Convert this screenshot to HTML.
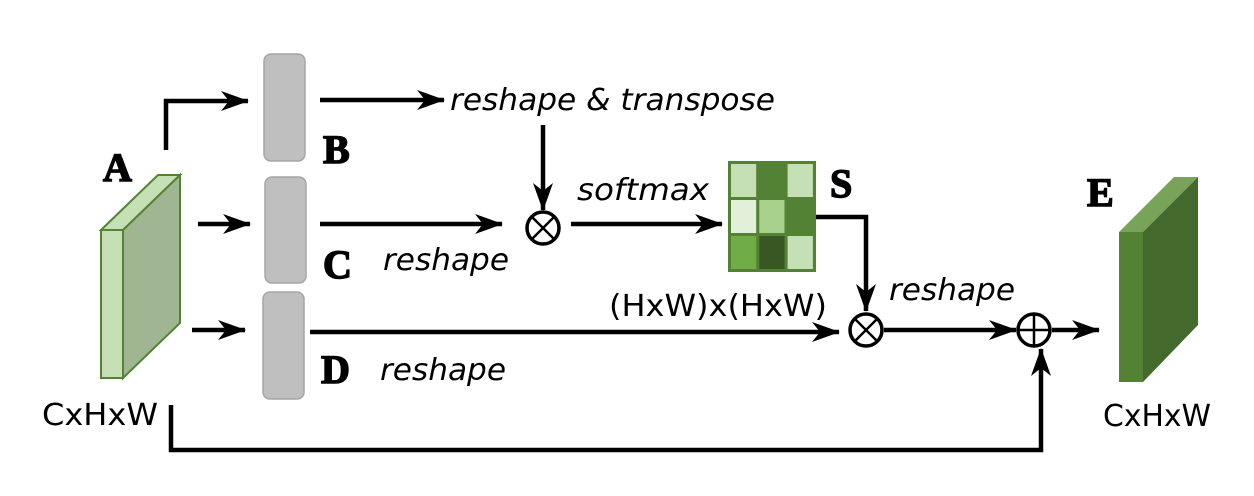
<!DOCTYPE html>
<html><head><meta charset="utf-8"><style>html,body{margin:0;padding:0;background:#fff}svg{display:block}</style></head>
<body>
<svg width="1254" height="496" viewBox="0 0 1254 496" xmlns="http://www.w3.org/2000/svg">
<defs>
<marker id="ah" viewBox="0 0 28 20" refX="27" refY="10" markerWidth="28" markerHeight="20" markerUnits="userSpaceOnUse" orient="auto">
<path d="M0,0 L28,10 L0,20 L8,10 Z" fill="#000"/>
</marker>
</defs>
<g stroke="#548235" stroke-width="2">
<polygon points="101,230 123,230 180,175 158,175" fill="#c5e0b4"/>
<polygon points="123,230 180,175 180,323 123,378" fill="#a0b591"/>
<rect x="101" y="230" width="22" height="148" fill="#c5e0b4"/>
</g>
<g fill="#bfbfbf" stroke="#a6a6a6" stroke-width="1.5">
<rect x="264" y="54" width="41" height="107" rx="7"/>
<rect x="265" y="177" width="41" height="106" rx="7"/>
<rect x="263" y="292" width="41" height="107" rx="7"/>
</g>
<g stroke="#000" stroke-width="4.5" fill="none">
<polyline points="166,150 166,101 248,101" marker-end="url(#ah)"/>
<line x1="320" y1="100" x2="444" y2="100" marker-end="url(#ah)"/>
<line x1="198" y1="224" x2="250" y2="224" marker-end="url(#ah)"/>
<line x1="320" y1="224" x2="502" y2="224" marker-end="url(#ah)"/>
<line x1="192" y1="330" x2="245" y2="330" marker-end="url(#ah)"/>
<line x1="310" y1="332" x2="839" y2="332" marker-end="url(#ah)"/>
<line x1="543" y1="125" x2="543" y2="210" marker-end="url(#ah)"/>
<line x1="571" y1="224" x2="722" y2="224" marker-end="url(#ah)"/>
<polyline points="816,217 866,217 866,311" marker-end="url(#ah)"/>
<line x1="884" y1="330" x2="1016" y2="330" marker-end="url(#ah)"/>
<line x1="1052" y1="330" x2="1099" y2="330" marker-end="url(#ah)"/>
<polyline points="171,405 171,450 1041,450 1041,349" marker-end="url(#ah)"/>
</g>
<g stroke="#000" stroke-width="3.5" fill="#fff">
<circle cx="543" cy="228" r="16"/>
<circle cx="866" cy="330" r="16"/>
<circle cx="1034" cy="330" r="16"/>
</g>
<g stroke="#000" stroke-width="2.5">
<line x1="532" y1="217" x2="554" y2="239"/><line x1="554" y1="217" x2="532" y2="239"/>
<line x1="855" y1="319" x2="877" y2="341"/><line x1="877" y1="319" x2="855" y2="341"/>
<line x1="1034" y1="314" x2="1034" y2="346"/><line x1="1018" y1="330" x2="1050" y2="330"/>
</g>
<rect x="728" y="161" width="88" height="111" fill="#548235"/>
<g stroke="#548235" stroke-width="3">
<rect x="729.5" y="162.5" width="28.3" height="36" fill="#c5e0b4"/>
<rect x="757.8" y="162.5" width="28.3" height="36" fill="#548235"/>
<rect x="786.1" y="162.5" width="28.3" height="36" fill="#c5e0b4"/>
<rect x="729.5" y="198.5" width="28.3" height="36" fill="#e2f0d9"/>
<rect x="757.8" y="198.5" width="28.3" height="36" fill="#a9d18e"/>
<rect x="786.1" y="198.5" width="28.3" height="36" fill="#548235"/>
<rect x="729.5" y="234.5" width="28.3" height="36" fill="#70ad47"/>
<rect x="757.8" y="234.5" width="28.3" height="36" fill="#385723"/>
<rect x="786.1" y="234.5" width="28.3" height="36" fill="#c5e0b4"/>
</g>
<polygon points="1119,232 1143,232 1198,177 1174,177" fill="#7aa35a"/>
<polygon points="1143,232 1198,177 1198,325 1143,382" fill="#44692c"/>
<rect x="1119" y="232" width="24" height="150" fill="#548235"/>
<g font-family="'DejaVu Sans','Liberation Sans',sans-serif" font-style="italic" font-size="30" fill="#000">
<text x="450" y="110" textLength="325" lengthAdjust="spacingAndGlyphs">reshape &amp; transpose</text>
<text x="577" y="200" textLength="132" lengthAdjust="spacingAndGlyphs">softmax</text>
<text x="383" y="270" textLength="126" lengthAdjust="spacingAndGlyphs">reshape</text>
<text x="380" y="380" textLength="126" lengthAdjust="spacingAndGlyphs">reshape</text>
<text x="889" y="300" textLength="126" lengthAdjust="spacingAndGlyphs">reshape</text>
</g>
<g font-family="'DejaVu Sans','Liberation Sans',sans-serif" font-size="30" fill="#000">
<text x="609" y="316" textLength="218" lengthAdjust="spacingAndGlyphs">(HxW)x(HxW)</text>
<text x="42" y="425" textLength="116" lengthAdjust="spacingAndGlyphs">CxHxW</text>
<text x="1103" y="426" textLength="108" lengthAdjust="spacingAndGlyphs">CxHxW</text>
</g>
<g font-family="'Liberation Serif',serif" font-weight="bold" font-size="40" fill="#000" stroke="#000" stroke-width="1.5">
<text x="103" y="181">A</text>
<text x="323" y="163">B</text>
<text x="323" y="278">C</text>
<text x="321" y="383">D</text>
<text x="1087" y="206">E</text>
<text x="830" y="197">S</text>
</g>
</svg>
</body></html>
